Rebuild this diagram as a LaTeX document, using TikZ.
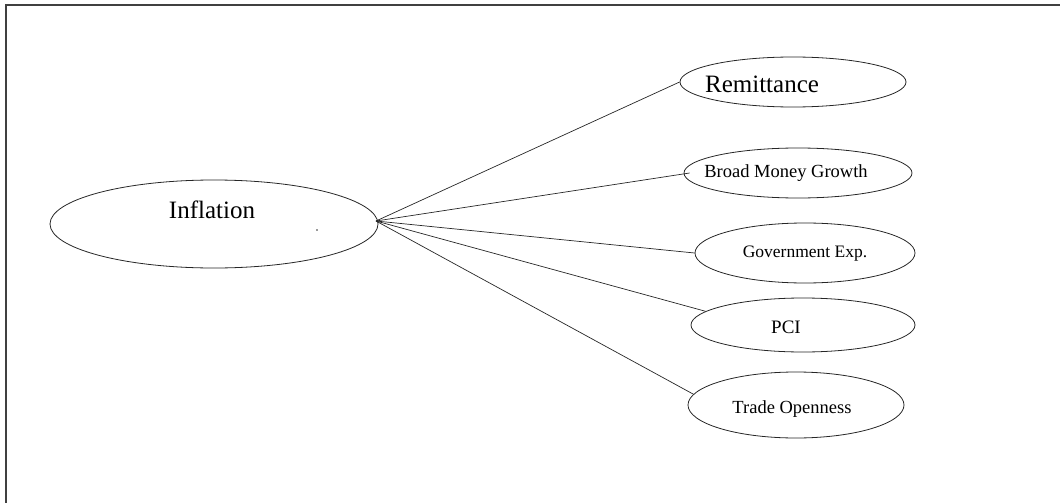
\documentclass[tikz,border=0pt]{standalone}
\usepackage{fontspec}
\setmainfont{Liberation Serif}
\usetikzlibrary{shapes.geometric}
\begin{document}
\begin{tikzpicture}[x=1pt,y=-1pt,
  oval/.style={draw=black!85, line width=0.8pt, ellipse, inner sep=0pt},
  lbl/.style={inner sep=0pt, font=\fontsize{#1}{#1}\selectfont, text=black},
  link/.style={draw=black!85, line width=0.7pt}]
\useasboundingbox (0,0) rectangle (1060,503);
% frame (top and left edges only)
\draw[line width=1.4pt, black!75] (6,503) -- (6,5) -- (1060,5);
% ellipses
\node[oval, minimum width=328pt, minimum height=88pt] (infl) at (214,224) {};
\node[oval, minimum width=226pt, minimum height=50pt] (rem) at (793,82) {};
\node[oval, minimum width=228pt, minimum height=50pt] (bmg) at (798,173) {};
\node[oval, minimum width=220pt, minimum height=60pt] (gov) at (805,253) {};
\node[oval, minimum width=224pt, minimum height=54pt] (pci) at (803,325) {};
\node[oval, minimum width=216pt, minimum height=66pt] (trd) at (796,405) {};
% labels
\node[lbl=25] (tinfl) at (212,210) {Inflation};
\node[lbl=25] (trem) at (762,84) {Remittance};
\node[lbl=18.5] (tbmg) at (786,173) {Broad Money Growth};
\node[lbl=17.5] (tgov) at (805,254) {Government Exp.};
\node[lbl=19] (tpci) at (786,327) {PCI};
\node[lbl=18.5] (ttrd) at (792,409) {Trade Openness};
% stray dot
\fill[black!80] (317,230) circle (0.9pt);
% hub and connectors
\coordinate (hub) at (376,221);
\draw[link] (hub) -- (rem.west);
\draw[link] (hub) -- ([xshift=6pt]bmg.west);
\draw[link] (hub) -- (gov.west);
\draw[link] (hub) -- (pci.172);
\draw[link] (hub) -- (trd.174);
\end{tikzpicture}
\end{document}
